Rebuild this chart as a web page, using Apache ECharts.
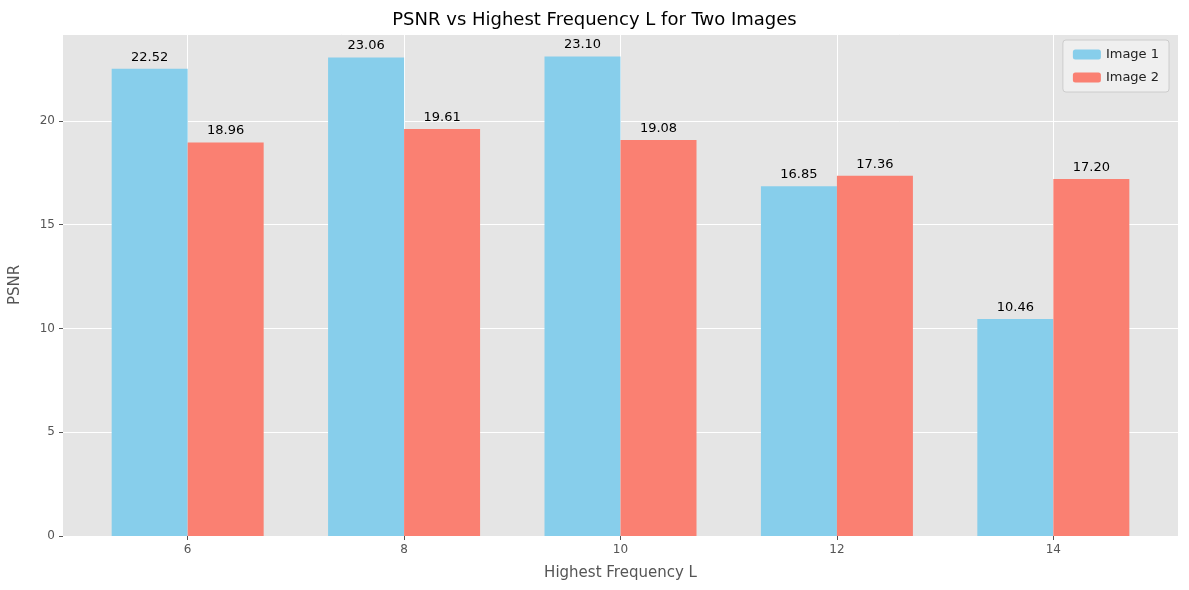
<!DOCTYPE html>
<html><head><meta charset="utf-8">
<script src="https://cdn.jsdelivr.net/npm/echarts@6/dist/echarts.min.js"></script>
<style>html,body{margin:0;padding:0;background:#fff}#c{width:1189px;height:590px}</style>
</head><body><div id="c"></div>
<script>
const categories = [6, 8, 10, 12, 14];
const image1 = [22.52, 23.06, 23.10, 16.85, 10.46];
const image2 = [18.96, 19.61, 19.08, 17.36, 17.20];
const yTicks = [0, 5, 10, 15, 20];

const chart = echarts.init(document.getElementById('c'));
const font = 'DejaVu Sans';
const lbl = {show: true, position: 'top', distance: 5, color: '#000', fontSize: 13, fontFamily: font, formatter: p => p.value[1].toFixed(2)};
chart.setOption({
  backgroundColor: '#fff',
  animation: false,
  title: {text: 'PSNR vs Highest Frequency L for Two Images', left: 'center', top: 6,
    textStyle: {fontFamily: font, fontWeight: 'normal', fontSize: 18, color: '#000'}},
  legend: {right: 20, top: 40, orient: 'vertical', itemWidth: 28, itemHeight: 10, itemGap: 10,
    backgroundColor: 'rgba(240,240,240,0.9)', borderColor: '#ccc', borderWidth: 1, borderRadius: 3, padding: [8, 10],
    textStyle: {fontFamily: font, fontSize: 13, color: '#222'}},
  grid: {left: 60, right: 11, top: 34, bottom: 54, show: true, backgroundColor: '#E5E5E5', borderWidth: 0},
  xAxis: {type: 'value', min: 6 - 250/217, max: 14 + 250/217,
    name: 'Highest Frequency L', nameLocation: 'middle', nameGap: 30,
    nameTextStyle: {fontFamily: font, fontSize: 15, color: '#555'},
    axisLine: {show: false},
    axisTick: {show: true, length: 4, lineStyle: {color: '#555'}, customValues: categories},
    axisLabel: {fontFamily: font, fontSize: 12, color: '#555', customValues: categories, formatter: v => String(v)},
    splitLine: {show: true, lineStyle: {color: '#fff', width: 1}}},
  yAxis: {type: 'value', min: 0, max: 24.19, interval: 5,
    name: 'PSNR', nameLocation: 'middle', nameGap: 40,
    nameTextStyle: {fontFamily: font, fontSize: 15, color: '#555'},
    axisLine: {show: false},
    axisTick: {show: true, length: 4, lineStyle: {color: '#555'}},
    axisLabel: {fontFamily: font, fontSize: 12, color: '#555', showMaxLabel: false},
    splitLine: {show: true, lineStyle: {color: '#fff', width: 1}}},
  series: [
    {name: 'Image 1', type: 'bar', barWidth: 76, barGap: '0%', itemStyle: {color: '#87CEEB'},
     data: categories.map((c, i) => [c, image1[i]]), label: lbl},
    {name: 'Image 2', type: 'bar', barWidth: 76, barGap: '0%', itemStyle: {color: '#FA8072'},
     data: categories.map((c, i) => [c, image2[i]]), label: lbl}
  ]
});
</script></body></html>
